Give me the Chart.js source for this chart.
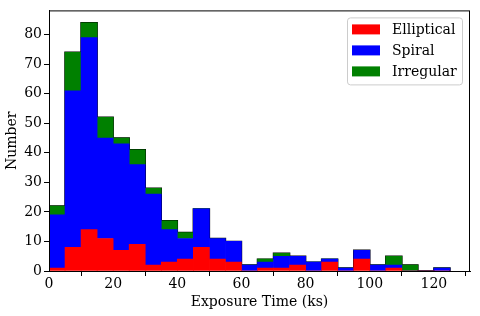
<!DOCTYPE html>
<html>
<head>
<meta charset="utf-8">
<script src="https://cdn.jsdelivr.net/npm/chart.js@4/dist/chart.umd.min.js"></script>
<style>
  html, body { margin: 0; padding: 0; background: #fff; }
  #wrap { width: 480px; height: 316px; }
</style>
</head>
<body>
<div id="wrap"><canvas id="myChart" width="480" height="316"></canvas></div>
<script>
// bin left edges (ks), bin width 5
const binLeft = [0,5,10,15,20,25,30,35,40,45,50,55,60,65,70,75,80,85,90,95,100,105,110,115,120]
const binWidth = 5
const elliptical = [1,8,14,11,7,9,2,3,4,8,4,3,0,1,1,2,0,3,0,4,0,1,0,0,0]
const spiral     = [18,53,65,34,36,27,24,11,7,13,7,7,2,2,4,3,3,1,1,3,2,1,0,0,1]
const irregular  = [3,13,5,7,2,5,2,3,2,0,0,0,0,1,1,0,0,0,0,0,0,3,2,0,0]
const xTicks = [0,20,40,60,80,100,120]
const yTicks = [0,10,20,30,40,50,60,70,80]

const FONT = 'DejaVu Serif'

function toPoints(arr){
    return arr.map((v, i) => ({x: binLeft[i] + binWidth/2, y: v}))
}

// outline of the total counts, step shape
function outline(){
    const pts = [{x: binLeft[0], y: 0}]
    for (let i = 0; i < binLeft.length; i++){
        const tot = elliptical[i] + spiral[i] + irregular[i]
        pts.push({x: binLeft[i], y: tot})
        pts.push({x: binLeft[i] + binWidth, y: tot})
    }
    pts.push({x: binLeft[binLeft.length-1] + binWidth, y: 0})
    return pts
}

const framePlugin = {
    id: 'frame',
    afterDraw(chart){
        const {ctx, chartArea: a} = chart
        ctx.save()
        ctx.strokeStyle = '#000'
        ctx.lineWidth = 1
        ctx.strokeRect(a.left + 0.5, a.top + 0.5, a.right - a.left - 1, a.bottom - a.top)
        // legend, upper right like matplotlib
        const items = chart.data.datasets.filter(d => d.type !== 'line')
        const bw = 115, bh = 67
        const bx = a.right - 8 - bw, by = a.top + 7
        ctx.fillStyle = 'rgba(255,255,255,0.8)'
        ctx.strokeStyle = '#cccccc'
        ctx.beginPath()
        ctx.roundRect(bx + 0.5, by + 0.5, bw, bh, 3)
        ctx.fill()
        ctx.stroke()
        ctx.font = '14px "' + FONT + '"'
        ctx.textBaseline = 'middle'
        items.forEach((d, i) => {
            const cy = by + 12 + i * 21
            ctx.fillStyle = d.backgroundColor
            ctx.fillRect(bx + 5, cy - 5, 28, 10)
            ctx.fillStyle = '#000'
            ctx.fillText(d.label, bx + 45, cy + 1)
        })
        ctx.restore()
    }
}

const ctx = document.getElementById('myChart')
const myChart = new Chart(ctx, {
    type: 'bar',
    data: {
        datasets: [
            {label: 'Elliptical', data: toPoints(elliptical), backgroundColor: '#ff0000', stack: 'h'},
            {label: 'Spiral', data: toPoints(spiral), backgroundColor: '#0000ff', stack: 'h'},
            {label: 'Irregular', data: toPoints(irregular), backgroundColor: '#008000', stack: 'h'},
            {type: 'line', label: 'total', data: outline(), borderColor: '#000', borderWidth: 1.5,
             pointRadius: 0, fill: false, tension: 0, stack: 'outline'}
        ]
    },
    options: {
        responsive: false,
        animation: false,
        devicePixelRatio: 1,
        layout: {padding: {top: 10, right: 10, left: 0, bottom: 0}},
        datasets: {bar: {barPercentage: 1, categoryPercentage: 1, borderWidth: 0}},
        plugins: {legend: {display: false}, tooltip: {enabled: false}},
        scales: {
            x: {
                type: 'linear', stacked: true, offset: false,
                min: 0, max: 131.25,
                afterBuildTicks: s => { s.ticks = xTicks.map(v => ({value: v})) },
                afterFit: s => { s.height = 45 },
                grid: {drawOnChartArea: false, tickLength: 5, color: '#000'},
                border: {color: '#000'},
                ticks: {color: '#000', font: {family: FONT, size: 14}, padding: 0, maxRotation: 0},
                title: {display: true, text: 'Exposure Time (ks)', color: '#000', font: {family: FONT, size: 14}, padding: {top: 0, bottom: 5}}
            },
            y: {
                stacked: true, min: 0, max: 88.2,
                afterBuildTicks: s => { s.ticks = yTicks.map(v => ({value: v})) },
                afterFit: s => { s.width = 49 },
                grid: {drawOnChartArea: false, tickLength: 5, color: '#000'},
                border: {color: '#000'},
                ticks: {color: '#000', font: {family: FONT, size: 14}, padding: 2},
                title: {display: true, text: 'Number', color: '#000', font: {family: FONT, size: 14}, padding: {top: 4, bottom: 0}}
            }
        }
    },
    plugins: [framePlugin]
})
</script>
</body>
</html>
